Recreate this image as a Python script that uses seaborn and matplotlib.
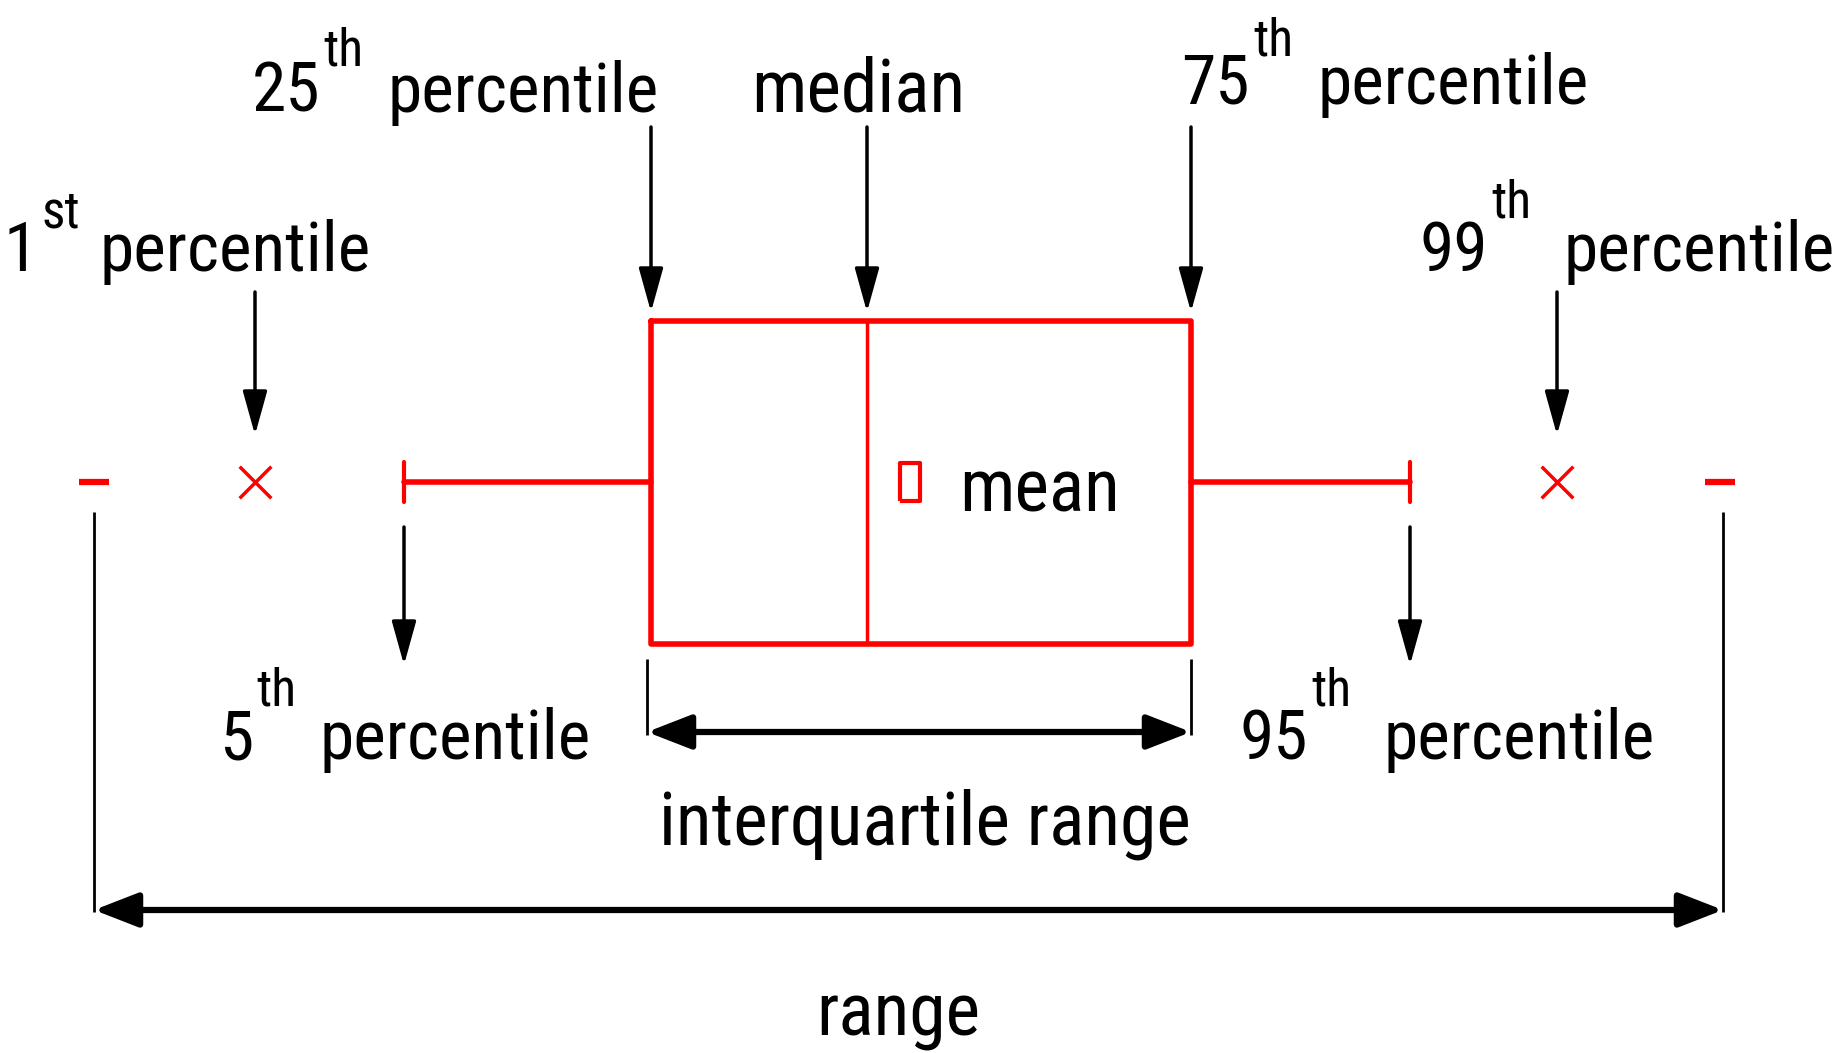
import matplotlib
matplotlib.use('Agg')
import matplotlib.pyplot as plt
import seaborn as sns
import pandas as pd

# summary statistics, in the chart's value units (0..1845 across)
stat_names = ['min', 'p1', 'p5', 'q1', 'median', 'mean', 'q3', 'p95', 'p99', 'max']
stat_values = [94, 255, 404, 651, 867, 910, 1191, 1410, 1557, 1720]

# percentile labels
label_numbers = ['1', '5', '25', '75', '95', '99']
label_suffixes = ['st', 'th', 'th', 'th', 'th', 'th']
label_targets = ['p1', 'p5', 'q1', 'q3', 'p95', 'p99']
label_word = 'percentile'

stats = dict(zip(stat_names, stat_values))

RED = '#ff0000'

sns.set_theme(style='white')
plt.rcParams['font.family'] = ['Roboto Condensed', 'DejaVu Sans']
plt.rcParams['font.stretch'] = 'condensed'
plt.rcParams['text.color'] = 'black'

fig = plt.figure(figsize=(18.45, 10.53), dpi=100)
ax = fig.add_axes([0, 0, 1, 1])

center_y = 482
fs = 50       # main label size
fs_sup = 37   # superscript size

# box with 5th/95th percentile whiskers
ax.bxp([dict(med=stats['median'], q1=stats['q1'], q3=stats['q3'],
             whislo=stats['p5'], whishi=stats['p95'], fliers=[])],
       positions=[center_y], widths=[323], orientation='horizontal',
       showfliers=False, capwidths=[40], manage_ticks=False,
       boxprops=dict(color=RED, lw=4),
       medianprops=dict(color=RED, lw=2.5),
       whiskerprops=dict(color=RED, lw=4),
       capprops=dict(color=RED, lw=3))

# 1st / 99th percentile markers
outer = pd.DataFrame({'value': [stats['p1'], stats['p99']], 'y': center_y})
sns.scatterplot(data=outer, x='value', y='y', marker='x', color=RED,
                s=520, linewidth=2.5, ax=ax)

# min / max markers
ends = pd.DataFrame({'value': [stats['min'], stats['max']], 'y': center_y})
sns.scatterplot(data=ends, x='value', y='y', marker='_', color=RED,
                s=441, linewidth=4.5, ax=ax)

# mean marker
rect = [(-0.55, -1), (0.55, -1), (0.55, 1), (-0.55, 1), (-0.55, -1)]
mean_df = pd.DataFrame({'value': [stats['mean']], 'y': center_y})
sns.scatterplot(data=mean_df, x='value', y='y', marker=rect, facecolor='none',
                edgecolor=RED, s=750, linewidth=3, ax=ax)
ax.text(stats['mean'] + 49, 512, 'mean', fontsize=fs + 3, ha='left', va='baseline')

# label arrows
arrow_kw = dict(arrowstyle='-|>,head_length=0.9,head_width=0.25',
                mutation_scale=30, lw=2.5, color='black', shrinkA=0, shrinkB=0)
arrow_spans = {'p1': (292, 435), 'p99': (292, 435),
               'q1': (127, 312), 'q3': (127, 312), 'median': (127, 312),
               'p5': (527, 665), 'p95': (527, 665)}
for key, (y0, y1) in arrow_spans.items():
    ax.annotate('', xy=(stats[key], y1), xytext=(stats[key], y0),
                arrowprops=arrow_kw)

# percentile label text: (number right edge, baseline, superscript baseline, word left)
label_layout = {'p1': (38, 271, 227, 100), 'p5': (253, 759, 706, 320),
                'q1': (320, 112, 65, 388), 'q3': (1250, 104, 56, 1318),
                'p95': (1308, 759, 706, 1383), 'p99': (1488, 271, 218, 1563)}
for num, suf, key in zip(label_numbers, label_suffixes, label_targets):
    nx, base, sup_base, wx = label_layout[key]
    ax.text(nx, base, num, fontsize=fs, ha='right', va='baseline')
    ax.text(nx + 3, sup_base, suf, fontsize=fs_sup, ha='left', va='baseline')
    ax.text(wx, base, label_word, fontsize=fs, ha='left', va='baseline')

ax.text(858, 112, 'median', fontsize=fs + 3, ha='center', va='baseline')

# interquartile range
ax.vlines([stats['q1'] - 4, stats['q3']], 659, 735, color='black', lw=2)
ax.annotate('', xy=(stats['q3'], 732), xytext=(stats['q1'] - 4, 732),
            arrowprops=dict(arrowstyle='<|-|>,head_length=0.9,head_width=0.35',
                            mutation_scale=30, lw=4.5, color='black',
                            shrinkA=0, shrinkB=0))
ax.text(925, 845, 'interquartile range', fontsize=fs + 3, ha='center', va='baseline')

# full range
ax.vlines([stats['min'], stats['max'] + 3], 512, 912, color='black', lw=2)
ax.annotate('', xy=(stats['max'] + 3, 910), xytext=(stats['min'], 910),
            arrowprops=dict(arrowstyle='<|-|>,head_length=0.9,head_width=0.35',
                            mutation_scale=30, lw=4.5, color='black',
                            shrinkA=0, shrinkB=0))
ax.text(898, 1035, 'range', fontsize=fs + 3, ha='center', va='baseline')

ax.set_xlim(0, 1845)
ax.set_ylim(1053, 0)
ax.axis('off')

fig.savefig('out.png', dpi=100, facecolor='white')
